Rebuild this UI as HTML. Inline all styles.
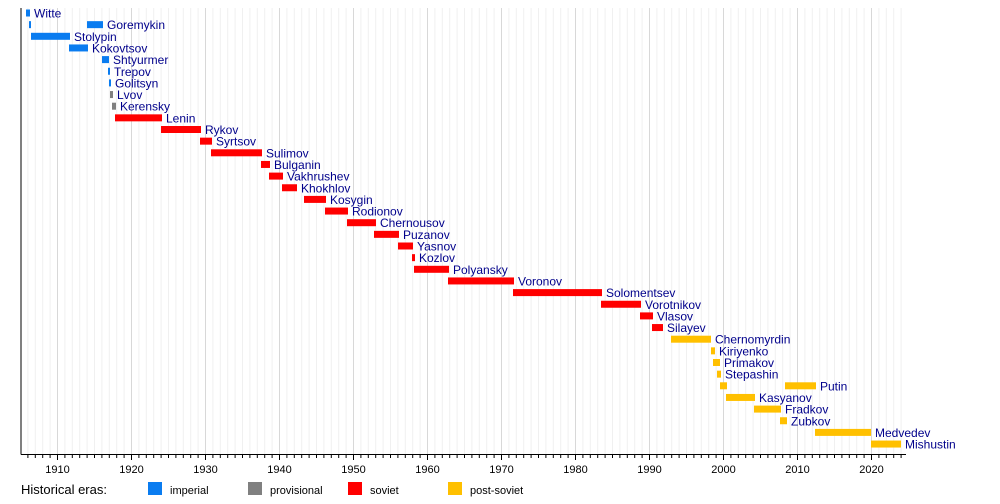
<!DOCTYPE html>
<html><head><meta charset="utf-8"><style>
html,body{margin:0;padding:0;background:#fff;}
svg{display:block;font-family:"Liberation Sans",sans-serif;}
</style></head><body>
<svg id="s" width="1000" height="504" xmlns="http://www.w3.org/2000/svg"></svg>
<script>
var s=document.getElementById('s'),h='';
function X(y){return 57.5+(y-1910)*7.4;}
for(var y=1906;y<=2024;y++){var x=X(y);var d=(y%10==0);
h+='<line x1="'+x+'" y1="8" x2="'+x+'" y2="454" stroke="'+(d?'#d8d8d8':'#f0f0f0')+'" stroke-width="1"/>';
h+='<line x1="'+x+'" y1="454" x2="'+x+'" y2="'+(d?460:458)+'" stroke="#000" stroke-width="1"/>';
if(d)h+='<text x="'+x+'" y="473" font-size="11" text-anchor="middle" fill="#000">'+y+'</text>';}
h+='<line x1="21" y1="8" x2="21" y2="454.5" stroke="#000"/><line x1="21" y1="454.5" x2="906" y2="454.5" stroke="#000"/>';
var B='#0a7cf0',G='#808080',R='#ff0000',Y='#ffc000';
var rows=[
['Witte',[[26,30]],B],['Goremykin',[[29,31],[87,103]],B],['Stolypin',[[31,70]],B],['Kokovtsov',[[69,88]],B],
['Shtyurmer',[[102,109]],B],['Trepov',[[108,110]],B],['Golitsyn',[[109,111]],B],['Lvov',[[110,113]],G],['Kerensky',[[112,116]],G],
['Lenin',[[115,162]],R],['Rykov',[[161,201]],R],['Syrtsov',[[200,212]],R],['Sulimov',[[211,262]],R],['Bulganin',[[261,270]],R],
['Vakhrushev',[[269,283]],R],['Khokhlov',[[282,297]],R],['Kosygin',[[304,326]],R],['Rodionov',[[325,348]],R],['Chernousov',[[347,376]],R],
['Puzanov',[[374,399]],R],['Yasnov',[[398,413]],R],['Kozlov',[[412,415]],R],['Polyansky',[[414,449]],R],['Voronov',[[448,514]],R],
['Solomentsev',[[513,602]],R],['Vorotnikov',[[601,641]],R],['Vlasov',[[640,653]],R],['Silayev',[[652,663]],R],
['Chernomyrdin',[[671,711]],Y],['Kiriyenko',[[711,715]],Y],['Primakov',[[713,720]],Y],['Stepashin',[[717,721]],Y],
['Putin',[[720,727],[785,816]],Y],['Kasyanov',[[726,755]],Y],['Fradkov',[[754,781]],Y],['Zubkov',[[780,787]],Y],
['Medvedev',[[815,871]],Y],['Mishustin',[[871,901]],Y]];
rows.forEach(function(r,i){var cy=13+i*11.65;var end=0;
r[1].forEach(function(b){h+='<rect x="'+b[0]+'" y="'+(cy-3.5)+'" width="'+(b[1]-b[0])+'" height="7" fill="'+r[2]+'"/>';end=b[1];});
h+='<text x="'+(end+4)+'" y="'+(cy+4.5)+'" font-size="12" fill="#00008b">'+r[0]+'</text>';});
h+='<text x="21" y="494" font-size="13" fill="#000">Historical eras:</text>';
[[148,B,'imperial'],[248,G,'provisional'],[348,R,'soviet'],[448,Y,'post-soviet']].forEach(function(l){
h+='<rect x="'+l[0]+'" y="482" width="14" height="13" fill="'+l[1]+'"/><text x="'+(l[0]+22)+'" y="494" font-size="11" fill="#000">'+l[2]+'</text>';});
s.innerHTML=h;
</script>
</body></html>
